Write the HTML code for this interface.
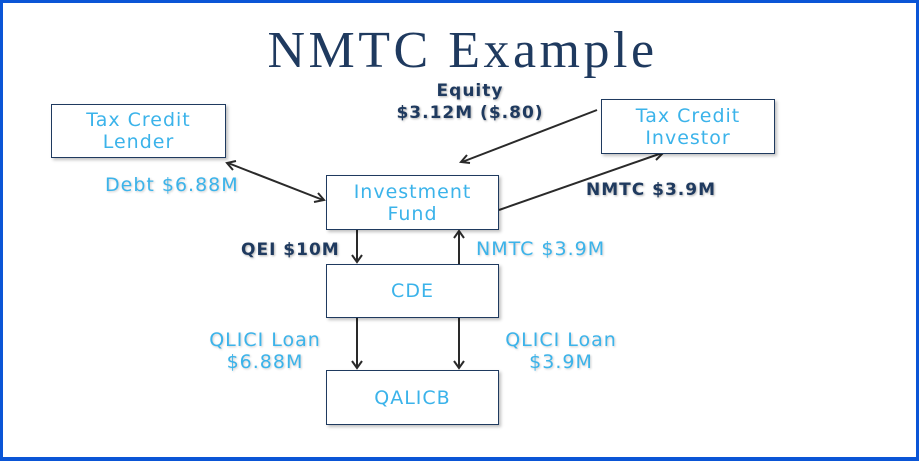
<!DOCTYPE html>
<html><head><style>
html,body{margin:0;padding:0;background:#fff}
body{width:919px;height:460px;position:relative;overflow:hidden;font-family:"DejaVu Sans","Liberation Sans",sans-serif}
.frame{position:absolute;left:0;top:0;width:913px;height:454px;border:3px solid #0a55d6;border-right-width:4px;border-bottom-width:4px;box-sizing:content-box}
.box{position:absolute;border:1.5px solid #1f3a5f;background:#fff;box-shadow:2px 2px 3px rgba(0,0,0,.25);color:#3bb3ea;font-size:19px;line-height:22px;letter-spacing:1px;text-align:center;display:flex;align-items:center;justify-content:center;box-sizing:border-box}
.t{position:absolute;font-size:19px;line-height:22px;text-align:center;white-space:nowrap}
.b{color:#1f3a5f;font-weight:bold;font-size:17px;letter-spacing:1px;text-shadow:1px 1px 2px rgba(0,0,0,.3)}
.c{color:#3bb3ea;letter-spacing:1px;text-shadow:1px 1px 2px rgba(0,0,0,.2)}
</style></head><body>
<div class="frame"></div>
<div class="t" style="left:0;width:925px;top:23px;font-family:'Liberation Serif',serif;font-size:52px;line-height:56px;color:#1f3a5f;letter-spacing:3.5px">NMTC Example</div>
<svg width="919" height="460" style="position:absolute;left:0;top:0" fill="none" stroke="#2a2a2a" stroke-width="2">
<line x1="228" y1="163" x2="323" y2="200"/>
<polyline points="236,161 227,163 233,170"/>
<polyline points="314,202 324,200 318,193"/>
<line x1="597" y1="110" x2="462" y2="162"/>
<polyline points="467,155 461,162 470,163"/>
<line x1="499" y1="210" x2="662" y2="153"/>
<polyline points="653,152 663,153 656,160"/>
<line x1="357" y1="229" x2="357" y2="262"/>
<polyline points="352,255 357,262 362,255"/>
<line x1="459" y1="264" x2="459" y2="231"/>
<polyline points="454,238 459,231 464,238"/>
<line x1="357" y1="318" x2="357" y2="368"/>
<polyline points="352,361 357,368 362,361"/>
<line x1="459" y1="318" x2="459" y2="368"/>
<polyline points="454,361 459,368 464,361"/>
</svg>
<div class="box" style="left:51px;top:104px;width:175px;height:54px">Tax Credit<br>Lender</div>
<div class="box" style="left:601px;top:99px;width:174px;height:55px">Tax Credit<br>Investor</div>
<div class="box" style="left:326px;top:175px;width:173px;height:55px">Investment<br>Fund</div>
<div class="box" style="left:326px;top:264px;width:173px;height:54px">CDE</div>
<div class="box" style="left:326px;top:370px;width:173px;height:55px">QALICB</div>
<div class="t b" style="left:370px;width:200px;top:80px">Equity<br>$3.12M ($.80)</div>
<div class="t c" style="left:105px;top:174px">Debt $6.88M</div>
<div class="t b" style="left:586px;top:179px">NMTC $3.9M</div>
<div class="t b" style="left:241px;top:239px">QEI $10M</div>
<div class="t c" style="left:476px;top:238px">NMTC $3.9M</div>
<div class="t c" style="left:190px;width:150px;top:329px">QLICI Loan<br>$6.88M</div>
<div class="t c" style="left:486px;width:150px;top:329px">QLICI Loan<br>$3.9M</div>
</body></html>
